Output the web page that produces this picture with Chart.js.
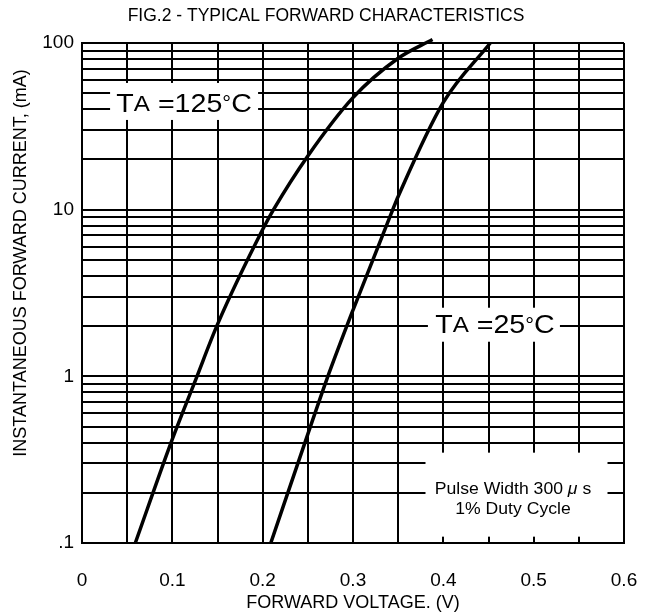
<!DOCTYPE html>
<html>
<head>
<meta charset="utf-8">
<script src="https://cdn.jsdelivr.net/npm/chart.js@4.4.1/dist/chart.umd.min.js"></script>
<style>
  html, body { margin: 0; padding: 0; background: #fff; }
  #chart { display: block; }
</style>
</head>
<body>
<canvas id="chart" width="652" height="616"></canvas>
<script>
/* ---- data ---- */
const hotV = [0.059, 0.1, 0.126, 0.15, 0.2, 0.212, 0.25, 0.3, 0.35, 0.388];
const hotI = [0.1, 0.42, 0.96, 2.05, 7.6, 10, 21, 47, 81, 105];
const roomV = [0.209, 0.25, 0.271, 0.3, 0.344, 0.35, 0.4, 0.452];
const roomI = [0.1, 0.45, 0.96, 2.5, 10, 12, 44, 100];

const xTicks = [0, 0.05, 0.1, 0.15, 0.2, 0.25, 0.3, 0.35, 0.4, 0.45, 0.5, 0.55, 0.6];
const xLabels = ['0', '', '0.1', '', '0.2', '', '0.3', '', '0.4', '', '0.5', '', '0.6'];
const yTicks = [0.1, 0.2, 0.3, 0.4, 0.5, 0.6, 0.7, 0.8, 0.9,
                1, 2, 3, 4, 5, 6, 7, 8, 9,
                10, 20, 30, 40, 50, 60, 70, 80, 90, 100];
const yLabels = { 0.1: '.1', 1: '1', 10: '10', 100: '100' };

const FONT = "'Liberation Sans', Arial, Helvetica, sans-serif";
const Y_TITLE = 'INSTANTANEOUS FORWARD CURRENT, (mA)';

/* ---- boxed notes on the grid ---- */
const notes = [
    { x: 0.113, y: 44.6, w: 148, h: 37, dx: 0, lines: [
        { dy: 3.5, parts: [['T', 26], ['A', 22], [' =125', 26], ['\u00b0', 20], ['C', 26]] }] },
    { x: 0.456, y: 2.04, w: 132, h: 34, dx: 1, lines: [
        { dy: 1.5, parts: [['T', 26], ['A', 22], [' =25', 26], ['\u00b0', 20], ['C', 26]] }] },
    { x: 0.481, y: 0.195, w: 182, h: 84, dx: -3.5, lines: [
        { dy: -5, parts: [['Pulse Width 300 ', 16], ['\u03bc', 16, 'italic '], [' s', 16]] },
        { dy: 15, parts: [['1% Duty Cycle', 16]] }] }
];

const STRETCH = 1.1;

function drawParts(ctx, parts, cx, cy) {
    let total = 0;
    parts.forEach(p => {
        ctx.font = (p[2] || '') + p[1] + 'px ' + FONT;
        total += ctx.measureText(p[0]).width * STRETCH;
    });
    let x = cx - total / 2;
    parts.forEach(p => {
        ctx.font = (p[2] || '') + p[1] + 'px ' + FONT;
        const w = ctx.measureText(p[0]).width * STRETCH;
        ctx.save();
        ctx.translate(x, cy);
        ctx.scale(STRETCH, 1);
        ctx.fillText(p[0], 0, 0);
        ctx.restore();
        x += w;
    });
}

const notesPlugin = {
    id: 'notes',
    beforeDatasetsDraw(chart) {
        const ctx = chart.ctx;
        const xs = chart.scales.x, ys = chart.scales.y;
        ctx.save();
        notes.forEach(n => {
            const cx = xs.getPixelForValue(n.x);
            const cy = ys.getPixelForValue(n.y);
            ctx.fillStyle = '#fff';
            ctx.fillRect(cx - n.w / 2, cy - n.h / 2, n.w, n.h);
            ctx.fillStyle = '#000';
            ctx.textBaseline = 'middle';
            ctx.textAlign = 'left';
            n.lines.forEach(l => drawParts(ctx, l.parts, cx + n.dx, cy + l.dy));
        });
        ctx.restore();
    },
    // y title sits a little above the middle of the axis in the original
    afterDraw(chart) {
        const ctx = chart.ctx;
        ctx.save();
        ctx.translate(21, 263);
        ctx.rotate(-Math.PI / 2);
        ctx.font = '18px ' + FONT;
        ctx.fillStyle = '#000';
        ctx.textAlign = 'center';
        ctx.textBaseline = 'middle';
        ctx.fillText(Y_TITLE, 0, 0);
        ctx.restore();
    }
};

function curve(xs, ys) {
    return xs.map((v, i) => ({ x: v, y: ys[i] }));
}

const lineStyle = {
    borderColor: '#000',
    borderWidth: 3.5,
    pointRadius: 0,
    cubicInterpolationMode: 'monotone',
    clip: false,
    fill: false
};

new Chart(document.getElementById('chart'), {
    type: 'line',
    data: {
        datasets: [
            Object.assign({ label: 'TA =125\u00b0C', data: curve(hotV, hotI) }, lineStyle),
            Object.assign({ label: 'TA =25\u00b0C', data: curve(roomV, roomI) }, lineStyle)
        ]
    },
    options: {
        responsive: false,
        animation: false,
        events: [],
        layout: { padding: 0 },
        plugins: {
            legend: { display: false },
            tooltip: { enabled: false },
            title: {
                display: true,
                text: 'FIG.2 - TYPICAL FORWARD CHARACTERISTICS',
                color: '#000',
                font: { family: FONT, size: 17.5, weight: 'normal' },
                padding: { top: 6, bottom: 16 }
            }
        },
        scales: {
            x: {
                type: 'linear',
                min: 0,
                max: 0.6,
                afterBuildTicks: s => { s.ticks = xTicks.map(v => ({ value: v })); },
                afterFit: s => { s.height = 73; s.paddingLeft = 0; s.paddingRight = 28; },
                grid: { color: '#000', lineWidth: 2, drawTicks: false },
                border: { display: true, color: '#000', width: 2 },
                ticks: {
                    autoSkip: false,
                    maxRotation: 0,
                    padding: 26,
                    color: '#000',
                    font: { family: FONT, size: 19 },
                    callback: (v, i) => xLabels[i]
                },
                title: {
                    display: true,
                    text: 'FORWARD VOLTAGE. (V)',
                    color: '#000',
                    font: { family: FONT, size: 18 },
                    padding: { top: 0, bottom: 2.5 }
                }
            },
            y: {
                type: 'logarithmic',
                min: 0.1,
                max: 100,
                afterBuildTicks: s => { s.ticks = yTicks.map(v => ({ value: v })); },
                afterFit: s => { s.width = 82; },
                grid: { color: '#000', lineWidth: 2, drawTicks: false },
                border: { display: true, color: '#000', width: 2 },
                ticks: {
                    autoSkip: false,
                    padding: 8,
                    color: '#000',
                    font: { family: FONT, size: 19 },
                    callback: v => yLabels[v] || ''
                },
                title: { display: false }
            }
        }
    },
    plugins: [notesPlugin]
});
</script>
</body>
</html>
